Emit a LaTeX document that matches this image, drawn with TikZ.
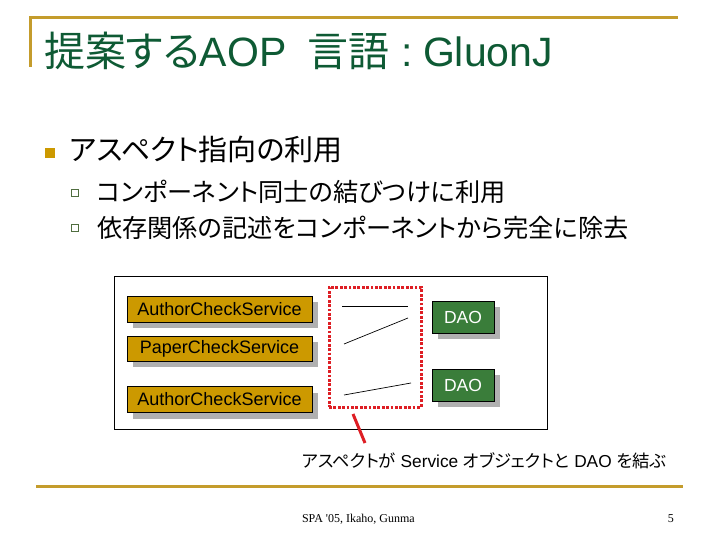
\documentclass[tikz,border=0pt]{standalone}
\usepackage{fontspec}
\setmainfont{Liberation Sans}
\newfontfamily\jp[RawFeature=+palt]{Noto Sans CJK JP}
\newfontfamily\serifface{Liberation Serif}
\usetikzlibrary{shadows}
\definecolor{goldline}{RGB}{196,156,44}
\definecolor{titlegreen}{RGB}{14,90,52}
\definecolor{svcgold}{RGB}{204,153,0}
\definecolor{daogreen}{RGB}{58,125,58}
\definecolor{shgray}{RGB}{176,176,176}
\definecolor{subsq}{RGB}{80,110,64}
\definecolor{aspred}{RGB}{222,30,36}
\begin{document}
\begin{tikzpicture}[x=1pt,y=-1pt,
  txt/.style={inner sep=0pt, outer sep=0pt, anchor=base west},
  ttl/.style={txt, text=titlegreen, font=\fontsize{41}{48}\selectfont},
  boxshadow/.style={drop shadow={shadow xshift=6pt, shadow yshift=-6pt, fill=shgray, opacity=1}},
  svc/.style={draw=black, line width=0.8pt, fill=svcgold, minimum width=185pt, minimum height=26pt, inner sep=0pt, boxshadow, font=\fontsize{18}{20}\selectfont},
  dao/.style={draw=black, line width=0.8pt, fill=daogreen, minimum width=62pt, minimum height=32pt, inner sep=0pt, boxshadow, text=white, font=\fontsize{17.5}{20}\selectfont},
  link/.style={draw=black, line width=0.7pt},
  goldrule/.style={draw=goldline, line width=3pt}
]
\useasboundingbox[fill=white] (0,0) rectangle (720,540);

% rules
\coordinate (tl) at (30,18);
\coordinate (tr) at (678,18);
\coordinate (tb) at (30,67);
\draw[goldrule] (tb) -- (tl) -- (tr);
\coordinate (bl) at (36,486);
\coordinate (br) at (683,486);
\draw[goldrule] (bl) -- (br);

% title
\node[ttl] (title) at (44,67) {{\jp 提案する}AOP};
\node[ttl] (title2) at (307,67) {\jp 言語};
\node[ttl] (title3) at (401,67) {:};
\node[ttl] (title4) at (423,67) {GluonJ};

% bullets
\node[fill=svcgold, minimum size=10pt, inner sep=0pt] (b1) at (50,153) {};
\node[txt, font=\fontsize{29}{32}\selectfont\jp] (t1) at (70,161) {アスペクト指向の利用};
\node[draw=subsq, line width=0.9pt, minimum size=7pt, inner sep=0pt] (b2) at (74.5,193) {};
\node[txt, font=\fontsize{25.2}{28}\selectfont\jp] (t2) at (97,202) {コンポーネント同士の結びつけに利用};
\node[draw=subsq, line width=0.9pt, minimum size=7pt, inner sep=0pt] (b3) at (74.5,228) {};
\node[txt, font=\fontsize{25.2}{28}\selectfont\jp] (t3) at (97,237) {依存関係の記述をコンポーネントから完全に除去};

% diagram frame
\node[draw=black, line width=0.8pt, minimum width=433pt, minimum height=153pt, inner sep=0pt, anchor=north west] (frame) at (114,276) {};

% services
\node[svc] (s1) at (219.5,309) {AuthorCheckService};
\node[svc, minimum height=25pt] (s2) at (219.5,348.5) {PaperCheckService};
\node[svc] (s3) at (219.5,399.5) {AuthorCheckService};

% DAOs
\node[dao] (d1) at (463,317) {DAO};
\node[dao] (d2) at (463,385) {DAO};

% aspect box
\node[draw=aspred, line width=3pt, dash pattern=on 2.8pt off 1.6pt, minimum width=92pt, minimum height=120pt, inner sep=0pt] (asp) at (375,347) {};

% links inside aspect
\coordinate (l1a) at (342,306); \coordinate (l1b) at (408,306);
\coordinate (l2a) at (344,344); \coordinate (l2b) at (408,318);
\coordinate (l3a) at (344,395); \coordinate (l3b) at (411,383);
\draw[link] (l1a) -- (l1b);
\draw[link] (l2a) -- (l2b);
\draw[link] (l3a) -- (l3b);

% caption and pointer
\node[txt, font=\fontsize{17.3}{22}\selectfont] (cap) at (302,467)
  {{\jp アスペクトが} Service {\jp オブジェクトと} DAO {\jp を結ぶ}};
\coordinate (p1) at (353,414);
\coordinate (p2) at (365,443);
\draw[draw=aspred, line width=3pt] (p1) -- (p2);

% footer
\node[txt, font=\fontsize{12}{14}\selectfont\serifface] (foot) at (302,522) {SPA \textquotesingle 05, Ikaho, Gunma};
\node[inner sep=0pt, anchor=base east, font=\fontsize{12}{14}\selectfont\serifface] (pg) at (674,522) {5};
\end{tikzpicture}
\end{document}
